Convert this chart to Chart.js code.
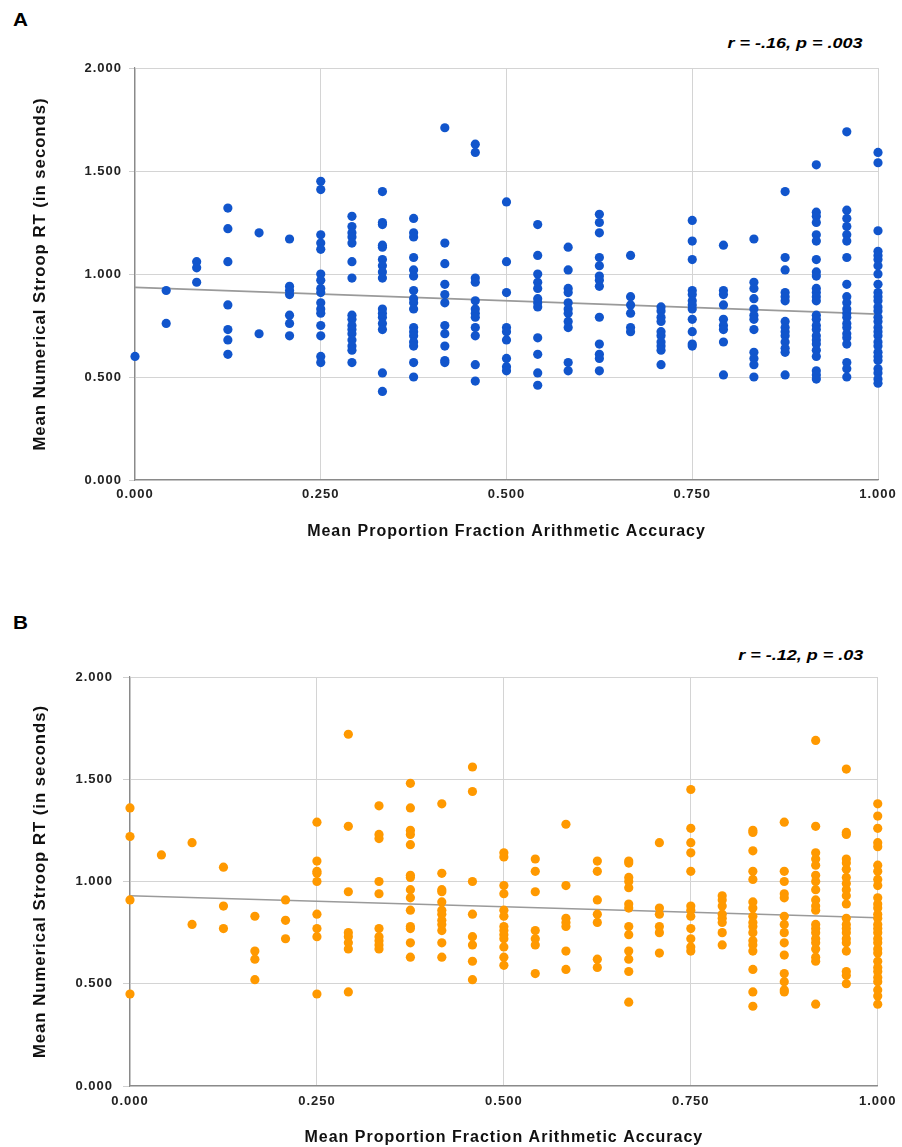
<!DOCTYPE html>
<html>
<head>
<meta charset="utf-8">
<script src="https://cdn.jsdelivr.net/npm/chart.js@4.4.1/dist/chart.umd.min.js"></script>
<style>
body { margin: 0; background: #fff; font-family: "Liberation Sans", Arial, sans-serif; }
#page { position: relative; width: 902px; height: 1147px; overflow: hidden; }
.panel { position: absolute; left: 0; }
.tag { position: absolute; left: 13px; font-size: 18px; font-weight: bold; line-height: 20px; color: #000;
	transform: scaleX(1.15); transform-origin: left center; }
.stat { position: absolute; right: 39px; font-size: 15px; font-weight: bold; font-style: italic; line-height: 18px; color: #000;
	transform: scaleX(1.2); transform-origin: right center; }
</style>
</head>
<body>
<div id="page">
  <div class="tag" style="top:10px">A</div>
  <div class="stat" style="top:34px">r = -.16, p = .003</div>
  <canvas id="chartA" class="panel" style="top:0px" width="902" height="560"></canvas>

  <div class="tag" style="top:613px">B</div>
  <div class="stat" style="top:646px">r = -.12, p = .03</div>
  <canvas id="chartB" class="panel" style="top:600px" width="902" height="547"></canvas>
</div>
<script>
// accuracy levels (x) shared by both panels
var accuracyLevels = [0.000, 0.042, 0.083, 0.125, 0.167, 0.208, 0.250, 0.292, 0.333, 0.375, 0.417, 0.458,
	0.500, 0.542, 0.583, 0.625, 0.667, 0.708, 0.750, 0.792, 0.833, 0.875, 0.917, 0.958, 1.000];

// panel A: RT values for each accuracy level
var rtA = [
	[0.60],
	[0.92, 0.76],
	[1.06, 1.03, 0.96],
	[1.32, 1.22, 1.06, 0.85, 0.73, 0.68, 0.61],
	[1.20, 0.71],
	[1.17, 0.94, 0.92, 0.90, 0.80, 0.76, 0.70],
	[1.45, 1.41, 1.19, 1.15, 1.12, 1.00, 0.97, 0.93, 0.91, 0.86, 0.83, 0.81, 0.75, 0.70, 0.60, 0.57],
	[1.28, 1.23, 1.20, 1.18, 1.15, 1.06, 0.98, 0.80, 0.78, 0.75, 0.73, 0.71, 0.68, 0.65, 0.63, 0.57],
	[1.40, 1.25, 1.24, 1.14, 1.13, 1.07, 1.04, 1.01, 0.98, 0.83, 0.81, 0.79, 0.76, 0.73, 0.52, 0.43],
	[1.27, 1.20, 1.18, 1.08, 1.02, 0.99, 0.92, 0.88, 0.86, 0.83, 0.74, 0.72, 0.70, 0.67, 0.65, 0.57, 0.50],
	[1.71, 1.15, 1.05, 0.95, 0.90, 0.86, 0.75, 0.71, 0.65, 0.58, 0.57],
	[1.63, 1.59, 0.98, 0.96, 0.87, 0.83, 0.81, 0.79, 0.74, 0.70, 0.56, 0.48],
	[1.35, 1.06, 0.91, 0.74, 0.72, 0.68, 0.59, 0.55, 0.53],
	[1.24, 1.09, 1.00, 0.96, 0.93, 0.88, 0.86, 0.84, 0.69, 0.61, 0.52, 0.46],
	[1.13, 1.02, 0.93, 0.91, 0.86, 0.83, 0.81, 0.77, 0.74, 0.57, 0.53],
	[1.29, 1.25, 1.20, 1.08, 1.04, 0.99, 0.97, 0.94, 0.79, 0.66, 0.61, 0.59, 0.53],
	[1.09, 0.89, 0.85, 0.81, 0.74, 0.72],
	[0.84, 0.82, 0.79, 0.77, 0.72, 0.70, 0.67, 0.65, 0.63, 0.56],
	[1.26, 1.16, 1.07, 0.92, 0.90, 0.87, 0.85, 0.83, 0.78, 0.72, 0.66, 0.65],
	[1.14, 0.92, 0.90, 0.85, 0.78, 0.75, 0.73, 0.67, 0.51],
	[1.17, 0.96, 0.93, 0.88, 0.83, 0.80, 0.78, 0.73, 0.62, 0.59, 0.56, 0.50],
	[1.40, 1.08, 1.02, 0.91, 0.89, 0.87, 0.77, 0.74, 0.72, 0.70, 0.67, 0.64, 0.62, 0.51],
	[1.53, 1.30, 1.28, 1.25, 1.19, 1.16, 1.07, 1.01, 0.99, 0.93, 0.91, 0.89, 0.87, 0.80, 0.78, 0.75, 0.73,
		0.70, 0.68, 0.66, 0.63, 0.60, 0.53, 0.51, 0.49],
	[1.69, 1.31, 1.27, 1.23, 1.19, 1.16, 1.08, 0.95, 0.89, 0.86, 0.83, 0.81, 0.79, 0.76, 0.74, 0.71, 0.69,
		0.66, 0.57, 0.54, 0.50],
	[1.59, 1.54, 1.21, 1.11, 1.09, 1.07, 1.04, 1.00, 0.95, 0.91, 0.89, 0.87, 0.84, 0.82, 0.79, 0.77, 0.74,
		0.72, 0.70, 0.67, 0.65, 0.62, 0.60, 0.58, 0.54, 0.52, 0.49, 0.47]
];

// panel B: RT values for each accuracy level
var rtB = [
	[1.36, 1.22, 0.91, 0.45],
	[1.13],
	[1.19, 0.79],
	[1.07, 0.88, 0.77],
	[0.83, 0.66, 0.62, 0.52],
	[0.91, 0.81, 0.72],
	[1.29, 1.10, 1.05, 1.04, 1.00, 0.84, 0.77, 0.73, 0.45],
	[1.72, 1.27, 0.95, 0.75, 0.73, 0.70, 0.67, 0.46],
	[1.37, 1.23, 1.21, 1.00, 0.94, 0.77, 0.73, 0.71, 0.69, 0.67],
	[1.48, 1.36, 1.25, 1.23, 1.18, 1.03, 1.02, 0.96, 0.92, 0.86, 0.78, 0.77, 0.70, 0.63],
	[1.38, 1.04, 0.96, 0.95, 0.90, 0.86, 0.84, 0.81, 0.79, 0.76, 0.70, 0.63],
	[1.56, 1.44, 1.00, 0.84, 0.73, 0.69, 0.61, 0.52],
	[1.14, 1.12, 0.98, 0.94, 0.86, 0.83, 0.78, 0.76, 0.74, 0.72, 0.68, 0.63, 0.59],
	[1.11, 1.05, 0.95, 0.76, 0.72, 0.69, 0.55],
	[1.28, 0.98, 0.82, 0.80, 0.78, 0.66, 0.57],
	[1.10, 1.05, 0.91, 0.84, 0.80, 0.62, 0.58],
	[1.10, 1.09, 1.02, 1.00, 0.97, 0.89, 0.87, 0.78, 0.74, 0.66, 0.62, 0.56, 0.41],
	[1.19, 0.87, 0.84, 0.78, 0.75, 0.65],
	[1.45, 1.26, 1.19, 1.14, 1.05, 0.88, 0.86, 0.83, 0.77, 0.72, 0.68, 0.66],
	[0.93, 0.91, 0.88, 0.84, 0.82, 0.80, 0.75, 0.69],
	[1.25, 1.24, 1.15, 1.05, 1.01, 0.90, 0.87, 0.83, 0.80, 0.78, 0.75, 0.71, 0.69, 0.66, 0.57, 0.46, 0.39],
	[1.29, 1.05, 1.00, 0.94, 0.92, 0.83, 0.79, 0.75, 0.70, 0.64, 0.55, 0.51, 0.47, 0.46],
	[1.69, 1.27, 1.14, 1.11, 1.08, 1.03, 1.00, 0.96, 0.91, 0.88, 0.86, 0.79, 0.77, 0.75, 0.72, 0.70, 0.67,
		0.63, 0.61, 0.40],
	[1.55, 1.24, 1.23, 1.11, 1.09, 1.06, 1.02, 0.99, 0.96, 0.93, 0.89, 0.82, 0.79, 0.77, 0.75, 0.72, 0.70,
		0.66, 0.56, 0.54, 0.50],
	[1.38, 1.32, 1.26, 1.19, 1.17, 1.08, 1.05, 1.01, 0.98, 0.92, 0.89, 0.87, 0.84, 0.82, 0.79, 0.77, 0.75,
		0.72, 0.70, 0.67, 0.65, 0.61, 0.58, 0.56, 0.53, 0.51, 0.47, 0.44, 0.40]
];

// trend line end points (x = 0 and x = 1)
var trendX = [0, 1];
var trendA = [0.935, 0.805];
var trendB = [0.930, 0.823];

var xTitle = "Mean Proportion Fraction Arithmetic Accuracy";
var yTitle = "Mean Numerical Stroop RT (in seconds)";

// the source picture has wide lettering, spread the canvas text a little
var wideText = {
	id: 'wideText',
	beforeDraw: function(chart){ chart.ctx.letterSpacing = '1px'; }
};

function toPoints(rows){
	var pts = [];
	for(var i = 0; i < rows.length; i++)
	{
		for(var j = 0; j < rows[i].length; j++)
			pts.push({x: accuracyLevels[i], y: rows[i][j]});
	}
	return pts;
}

function buildChart(id, rows, trend, color, lay){
	var tickFont = {family: "Liberation Sans", size: 13, weight: "bold"};
	var xTitleFont = {family: "Liberation Sans", size: 16, weight: "bold"};
	var yTitleFont = {family: "Liberation Sans", size: 16.7, weight: "bold"};

	new Chart(document.getElementById(id), {
		type: 'scatter',
		plugins: [wideText],
		data: {
			datasets: [{
				data: toPoints(rows),
				backgroundColor: color,
				borderColor: color,
				borderWidth: 0,
				pointRadius: 4.6,
				clip: false,
				order: 1
			},
			{
				type: 'line',
				data: trendX.map(function(x, i){ return {x: x, y: trend[i]}; }),
				borderColor: '#9a9a9a',
				borderWidth: 1.6,
				pointRadius: 0,
				fill: false,
				order: 2
			}]
		},
		options: {
			responsive: false,
			animation: false,
			layout: {padding: {left: 0, right: lay.right, top: lay.top, bottom: 0}},
			plugins: {legend: {display: false}, tooltip: {enabled: false}},
			scales: {
				x: {
					type: 'linear', min: 0, max: 1,
					afterFit: function(s){ s.height = lay.xHeight; },
					ticks: {stepSize: 0.25, padding: lay.xPad, color: '#222', font: tickFont,
						callback: function(v){ return v.toFixed(3); }},
					grid: {color: '#d4d4d4', lineWidth: 1, drawTicks: false},
					border: {display: true, color: '#8a8a8a', width: 1.2},
					title: {display: true, text: xTitle, color: '#111', font: xTitleFont, padding: {top: 0, bottom: lay.xTitlePad}}
				},
				y: {
					min: 0, max: 2,
					afterFit: function(s){ s.width = lay.yWidth; },
					ticks: {stepSize: 0.5, padding: lay.yPad, color: '#222', font: tickFont,
						callback: function(v){ return v.toFixed(3); }},
					grid: {color: '#d4d4d4', lineWidth: 1, drawTicks: true, tickLength: lay.tick, tickColor: '#cfcfcf'},
					border: {display: true, color: '#8a8a8a', width: 1.2},
					title: {display: true, text: yTitle, color: '#111', font: yTitleFont, padding: {top: 30, bottom: 0}}
				}
			}
		}
	});
}

buildChart('chartA', rtA, trendA, '#1155cc', {top: 68, right: 24, yWidth: 135, xHeight: 80, xPad: 7, yPad: 7, tick: 6, xTitlePad: 19});
buildChart('chartB', rtB, trendB, '#ff9900', {top: 77, right: 22, yWidth: 130, xHeight: 61, xPad: 8, yPad: 10, tick: 7, xTitlePad: 0});
</script>
</body>
</html>
